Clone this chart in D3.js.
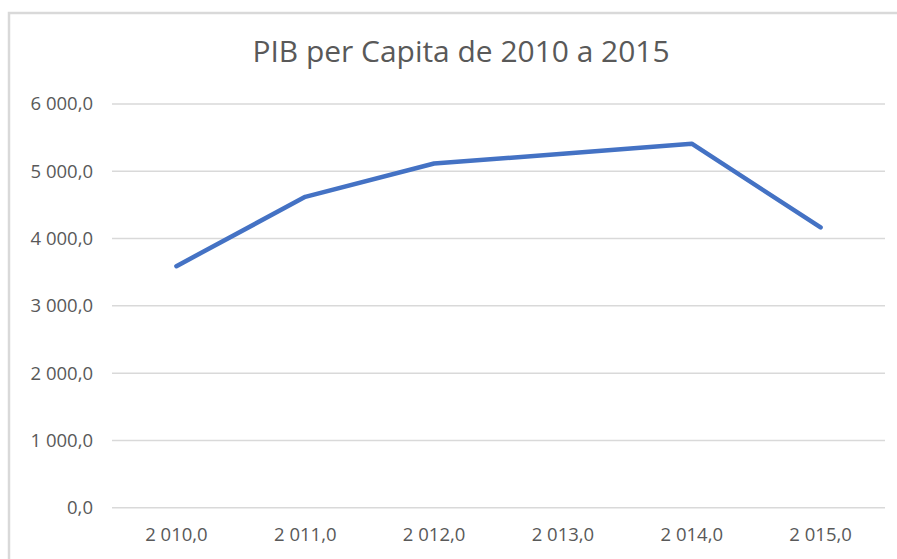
<!DOCTYPE html>
<html>
<head>
<meta charset="utf-8">
<script src="https://cdn.jsdelivr.net/npm/d3@7/dist/d3.min.js"></script>
<style>
  html, body { margin: 0; padding: 0; background: #ffffff; }
  svg { display: block; }
</style>
</head>
<body>
<svg id="chart" width="897" height="559"></svg>
<script>
const title = "PIB per Capita de 2010 a 2015";
const years = [2010, 2011, 2012, 2013, 2014, 2015];
const gdpPerCapita = [3590, 4620, 5115, 5260, 5410, 4165];
const yTicks = [0, 1000, 2000, 3000, 4000, 5000, 6000];

const fmt = v => {
  const s = d3.format(",.1f")(v);
  return s.replace(/,/g, " ").replace(".", ",");
};

const svg = d3.select("#chart");
const font = "'Open Sans', 'Noto Sans', sans-serif";

// chart frame
svg.append("rect")
  .attr("x", 9).attr("y", 13)
  .attr("width", 920).attr("height", 580)
  .attr("fill", "#ffffff")
  .attr("stroke", "#d9d9d9").attr("stroke-width", 2.5);

const x = d3.scaleBand().domain(years).range([112, 885]).padding(0);
const y = d3.scaleLinear().domain([0, 6000]).range([507.7, 104]);

// gridlines
svg.append("g")
  .selectAll("line").data(yTicks).join("line")
  .attr("x1", 112).attr("x2", 885)
  .attr("y1", d => y(d)).attr("y2", d => y(d))
  .attr("stroke", "#d9d9d9").attr("stroke-width", 1.5);

// y axis labels
const yAxis = d3.axisLeft(y).tickValues(yTicks).tickFormat(fmt).tickSize(0).tickPadding(0);
const gy = svg.append("g").attr("transform", "translate(93,0)").call(yAxis);
gy.select(".domain").remove();
gy.selectAll("text")
  .attr("fill", "#595959")
  .style("font-family", font)
  .style("font-size", "18.5px");

// x axis labels
const xAxis = d3.axisBottom(x).tickFormat(fmt).tickSize(0).tickPadding(0);
const gx = svg.append("g").attr("transform", "translate(0,528)").call(xAxis);
gx.select(".domain").remove();
gx.selectAll("text")
  .attr("fill", "#595959")
  .style("font-family", font)
  .style("font-size", "18.5px");

// line
const line = d3.line()
  .x((d, i) => x(years[i]) + x.bandwidth() / 2)
  .y(d => y(d));

svg.append("path")
  .datum(gdpPerCapita)
  .attr("d", line)
  .attr("fill", "none")
  .attr("stroke", "#4472C4")
  .attr("stroke-width", 4.5)
  .attr("stroke-linejoin", "round")
  .attr("stroke-linecap", "round");

// title
svg.append("text")
  .attr("x", 461).attr("y", 61.5)
  .attr("text-anchor", "middle")
  .attr("fill", "#595959")
  .style("font-family", font)
  .style("font-size", "30px")
  .attr("textLength", 417)
  .attr("lengthAdjust", "spacingAndGlyphs")
  .text(title);
</script>
</body>
</html>
